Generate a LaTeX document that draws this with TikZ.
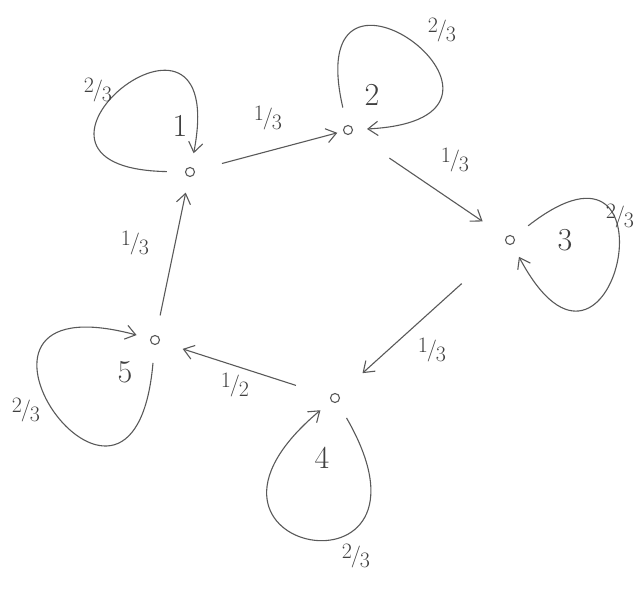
\documentclass[tikz,border=0pt]{standalone}
\usepackage{tikz}
\usetikzlibrary{arrows.meta}
\newcommand{\wfrac}[2]{\raisebox{.5ex}{#1}\kern-.05em/\kern-.05em\raisebox{-.5ex}{#2}}

\begin{document}
\begin{tikzpicture}[x=1pt,y=1pt,
pencil/.style={draw=black!65,line width=1.1pt},
vert/.style={pencil,circle,minimum size=9pt,inner sep=0pt},
arr/.style={pencil,-{Straight Barb[length=3.5mm,width=5mm]},shorten <=25pt,shorten >=15pt},
selfloop/.style={pencil,-{Straight Barb[length=3.5mm,width=5mm]},shorten <=18pt,shorten >=14pt,min distance=#1},
num/.style={font=\fontsize{32}{32}\selectfont,text=black!75},
wt/.style={font=\fontsize{22}{22}\selectfont,text=black!75}]
\useasboundingbox (0,0) rectangle (637,596);
% vertices
\node[vert] (n1) at (190,424) {};
\node[vert] (n2) at (348,466) {};
\node[vert] (n3) at (510,356) {};
\node[vert] (n4) at (335,198) {};
\node[vert] (n5) at (155,256) {};
\node[num] (l1) at (180,470) {1};
\node[num] (l2) at (372,501) {2};
\node[num] (l3) at (565,356) {3};
\node[num] (l4) at (322,138) {4};
\node[num] (l5) at (125,224) {5};
% self loops
\draw[selfloop=212pt] (n1) to[out=179,in=79] (n1);
\draw[selfloop=215pt] (n2) to[out=103,in=3] (n2);
\draw[selfloop=215pt] (n3) to[out=38,in=-62] (n3);
\draw[selfloop=238pt] (n4) to[out=-60,in=-140] (n4);
\draw[selfloop=245pt] (n5) to[out=265,in=165] (n5);
\node[wt] (w11) at (98,506) {\wfrac{2}{3}};
\node[wt] (w22) at (442,566) {\wfrac{2}{3}};
\node[wt] (w33) at (620,380) {\wfrac{2}{3}};
\node[wt] (w44) at (356,40) {\wfrac{2}{3}};
\node[wt] (w55) at (26,186) {\wfrac{2}{3}};
% transitions
\draw[arr,shorten <=28pt,shorten >=6pt] (n1) -- (n2);
\draw[arr,shorten <=45pt,shorten >=28pt] (n2) -- (n3);
\draw[arr,shorten <=60pt,shorten >=32pt] (n3) -- (n4);
\draw[arr,shorten <=36pt,shorten >=24pt] (n4) -- (n5);
\draw[arr,shorten <=20pt,shorten >=16pt] (n5) -- (n1);
\node[wt] (w12) at (268,478) {\wfrac{1}{3}};
\node[wt] (w23) at (455,436) {\wfrac{1}{3}};
\node[wt] (w34) at (432,246) {\wfrac{1}{3}};
\node[wt] (w45) at (235,211) {\wfrac{1}{2}};
\node[wt] (w51) at (135,353) {\wfrac{1}{3}};
\end{tikzpicture}
\end{document}
